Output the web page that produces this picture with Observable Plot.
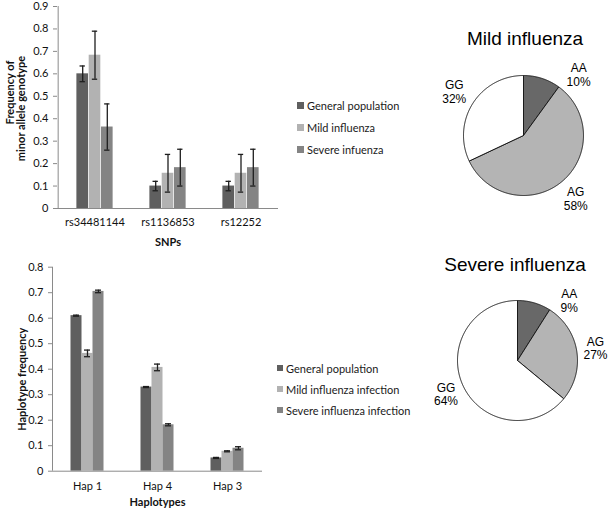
<!DOCTYPE html>
<html>
<head>
<meta charset="utf-8">
<script src="https://cdn.jsdelivr.net/npm/d3@7"></script>
<script src="https://cdn.jsdelivr.net/npm/@observablehq/plot@0.6"></script>
<style>
  body { margin: 0; background: #fff; }
  #root { position: relative; width: 609px; height: 509px; overflow: hidden; background: #fff; }
  #root svg { position: absolute; overflow: visible; }
  .leg { position: absolute; font-family: Lato, sans-serif; font-size: 11px; color: #1a1a1a; }
  .leg .row { display: flex; align-items: center; white-space: nowrap; }
  .leg .sw { display: inline-block; margin-right: 3px; }
</style>
</head>
<body>
<div id="root"></div>
<script>
// ---------- data ----------
const snpCategories = ["rs34481144", "rs1136853", "rs12252"];
const snpSeries = ["General population", "Mild influenza", "Severe infuenza"];
const snpGeneral = [0.60, 0.10, 0.10];
const snpGeneralErr = [0.035, 0.021, 0.021];
const snpMild = [0.683, 0.157, 0.157];
const snpMildErr = [0.107, 0.084, 0.084];
const snpSevere = [0.363, 0.182, 0.182];
const snpSevereErr = [0.103, 0.082, 0.082];

const hapCategories = ["Hap 1", "Hap 4", "Hap 3"];
const hapSeries = ["General population", "Mild influenza infection", "Severe influenza infection"];
const hapGeneral = [0.61, 0.33, 0.052];
const hapGeneralErr = [0.002, 0.002, 0.002];
const hapMild = [0.462, 0.407, 0.078];
const hapMildErr = [0.013, 0.013, 0.002];
const hapSevere = [0.705, 0.182, 0.09];
const hapSevereErr = [0.005, 0.004, 0.006];

const genotypes = ["AA", "AG", "GG"];
const mildShares = [10, 58, 32];
const severeShares = [9, 27, 64];

// ---------- styles ----------
const seriesColors = ["#5f5f5f", "#b2b2b2", "#848484"];
const pieColors = ["#686868", "#b4b4b4", "#ffffff"];
const axisGray = "#8a8a8a";
const root = document.getElementById("root");

function place(el, left, top) {
  el.style.left = left + "px";
  el.style.top = top + "px";
  root.appendChild(el);
}

function barChart(cfg) {
  const {cats, values, errors, width, height, marginLeft, marginRight, marginTop, marginBottom,
         yMax, barW, tickPad, yLabels, xLabel, xLabelDy} = cfg;
  const rows = [];
  values.forEach((vals, i) => cats.forEach((c, j) => rows.push({cat: c, i, v: vals[j], e: errors[i][j]})));
  const step = (width - marginLeft - marginRight) / cats.length;
  const inset = (step - barW) / 2;
  const capHalf = 3;
  const marks = [];
  values.forEach((_, i) => {
    const d = rows.filter(r => r.i === i);
    marks.push(Plot.barY(d, {x: "cat", y: "v", fill: seriesColors[i], insetLeft: inset, insetRight: inset, dx: (i - 1) * barW}));
  });
  values.forEach((_, i) => {
    const d = rows.filter(r => r.i === i);
    const dx = (i - 1) * barW;
    marks.push(Plot.ruleX(d, {x: "cat", y1: r => r.v - r.e, y2: r => r.v + r.e, dx, stroke: "#1e1e1e", strokeWidth: 1.3}));
    marks.push(Plot.tickY(d, {x: "cat", y: r => r.v + r.e, dx, insetLeft: step / 2 - capHalf, insetRight: step / 2 - capHalf, stroke: "#1e1e1e", strokeWidth: 1.3}));
    marks.push(Plot.tickY(d, {x: "cat", y: r => r.v - r.e, dx, insetLeft: step / 2 - capHalf, insetRight: step / 2 - capHalf, stroke: "#1e1e1e", strokeWidth: 1.3}));
  });
  marks.push(Plot.ruleY([0], {stroke: axisGray, strokeWidth: 1}));
  marks.push(Plot.ruleX([cats[0]], {dx: -step / 2, y1: 0, y2: yMax, stroke: axisGray, strokeWidth: 1}));
  marks.push(Plot.axisY({
    ticks: d3.range(0, yMax + 1e-9, 0.1),
    tickFormat: d => Math.abs(d) < 1e-9 ? "0" : d3.format(".1f")(d),
    tickSize: 4, tickPadding: 5, stroke: axisGray, fontSize: 11, label: null
  }));
  marks.push(Plot.axisX({tickSize: 0, tickPadding: tickPad, fontSize: 11, label: null}));
  yLabels.forEach(l => {
    marks.push(Plot.text([l.text], {frameAnchor: "left", textAnchor: "middle", lineAnchor: "middle", dx: l.dx, dy: l.dy, rotate: -90, fontWeight: "bold", fontSize: 11}));
  });
  marks.push(Plot.text([xLabel], {frameAnchor: "bottom", textAnchor: "middle", lineAnchor: "middle", dy: xLabelDy, fontWeight: "bold", fontSize: 11}));
  return Plot.plot({
    width, height, marginLeft, marginRight, marginTop, marginBottom,
    style: {fontFamily: "Lato, sans-serif", fontSize: "11px", color: "#111", background: "transparent", overflow: "visible"},
    x: {domain: cats, padding: 0},
    y: {domain: [0, yMax]},
    marks
  });
}

function legend(series, left, top, rowH, sw) {
  const div = document.createElement("div");
  div.className = "leg";
  div.style.left = left + "px";
  div.style.top = top + "px";
  series.forEach((s, i) => {
    const row = document.createElement("div");
    row.className = "row";
    row.style.height = rowH + "px";
    const box = document.createElement("span");
    box.className = "sw";
    box.style.width = sw + "px";
    box.style.height = sw + "px";
    box.style.background = seriesColors[i];
    const t = document.createElement("span");
    t.textContent = s;
    row.appendChild(box);
    row.appendChild(t);
    div.appendChild(row);
  });
  root.appendChild(div);
}

function pieChart(cfg) {
  const {shares, title, width, height, cx, cy, r, labelR, titleDy} = cfg;
  const titleSize = 19, labelSize = 12, lineH = 1.15;
  const arcs = d3.pie().sort(null).value(d => d)(shares);
  const pts = [];
  arcs.forEach((a, k) => {
    pts.push({k, x: 0, y: 0});
    const n = Math.max(2, Math.ceil((a.endAngle - a.startAngle) / 0.01));
    for (let t = 0; t <= n; t++) {
      const ang = a.startAngle + (a.endAngle - a.startAngle) * t / n;
      pts.push({k, x: r * Math.sin(ang), y: r * Math.cos(ang)});
    }
    pts.push({k, x: 0, y: 0});
  });
  const mid = a => (a.startAngle + a.endAngle) / 2;
  // keep labels clear of the title: clamp their height, slide them round the label circle
  const labelHalf = labelSize * lineH;
  const yLimit = cy - (titleDy + titleSize / 2 + 13 + labelHalf);
  const ly = a => Math.min(labelR * Math.cos(mid(a)), yLimit);
  const lx = a => {
    const y = ly(a);
    const s = Math.sin(mid(a)) >= 0 ? 1 : -1;
    return y === labelR * Math.cos(mid(a)) ? labelR * Math.sin(mid(a)) : s * Math.sqrt(Math.max(0, labelR * labelR - y * y));
  };
  return Plot.plot({
    width, height, margin: 0,
    style: {fontFamily: "'Liberation Sans', Arial, sans-serif", color: "#000", background: "transparent", overflow: "visible"},
    x: {domain: [-cx, width - cx], range: [0, width], axis: null},
    y: {domain: [-(height - cy), cy], range: [height, 0], axis: null},
    color: {type: "identity"},
    marks: [
      Plot.line(pts, {x: "x", y: "y", z: "k", fill: d => pieColors[d.k], stroke: "#1a1a1a", strokeWidth: 1, strokeLinejoin: "round"}),
      Plot.text(arcs, {
        x: lx,
        y: ly,
        text: (a, i) => genotypes[i] + "\n" + shares[i] + "%",
        fontSize: labelSize, lineHeight: lineH
      }),
      Plot.text([title], {frameAnchor: "top", textAnchor: "middle", lineAnchor: "middle", dy: titleDy, fontSize: titleSize})
    ]
  });
}

// ---------- top bar chart ----------
place(barChart({
  cats: snpCategories,
  values: [snpGeneral, snpMild, snpSevere],
  errors: [snpGeneralErr, snpMildErr, snpSevereErr],
  width: 290, height: 250, marginLeft: 57, marginRight: 12, marginTop: 6, marginBottom: 42,
  yMax: 0.9, barW: 12.3, tickPad: 10,
  yLabels: [{text: "Frequency of", dx: -47, dy: -15}, {text: "minor allele genotype", dx: -36, dy: 1}],
  xLabel: "SNPs", xLabelDy: 34
}), 0, 0);
legend(snpSeries, 297, 94, 22, 7);

// ---------- bottom bar chart ----------
place(barChart({
  cats: hapCategories,
  values: [hapGeneral, hapMild, hapSevere],
  errors: [hapGeneralErr, hapMildErr, hapSevereErr],
  width: 270, height: 259, marginLeft: 52, marginRight: 8, marginTop: 16.7, marginBottom: 38.3,
  yMax: 0.8, barW: 11, tickPad: 11,
  yLabels: [{text: "Haplotype frequency", dx: -30, dy: 10}],
  xLabel: "Haplotypes", xLabelDy: 31
}), 0, 250);
legend(hapSeries, 277, 357.5, 21, 6);

// ---------- pies ----------
place(pieChart({shares: mildShares, title: "Mild influenza", width: 169, height: 245, cx: 83, cy: 135, r: 60, labelR: 82, titleDy: 38}), 440, 0);
place(pieChart({shares: severeShares, title: "Severe influenza", width: 189, height: 259, cx: 97, cy: 110, r: 60, labelR: 79, titleDy: 14}), 420, 250);
</script>
</body>
</html>
